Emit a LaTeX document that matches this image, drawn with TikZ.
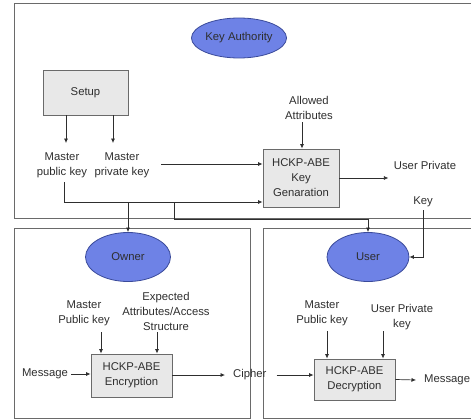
\documentclass[tikz,border=0pt]{standalone}
\usepackage{fontspec}
\setmainfont{Liberation Sans}
\usetikzlibrary{arrows.meta,shapes.geometric}
\definecolor{ink}{HTML}{2E2E2E}
\definecolor{boxfill}{HTML}{E8E8E8}
\definecolor{ellfill}{HTML}{6E82E6}
\definecolor{elldraw}{HTML}{3A4A9A}
\definecolor{framec}{HTML}{6A6A6A}
\newcommand\dfont{\fontsize{11.3}{15}\selectfont}
\begin{document}
\begin{tikzpicture}[x=1pt,y=-1pt,
  panel/.style={draw=framec, line width=1pt},
  proc/.style={draw=framec, fill=boxfill, line width=0.9pt, align=center, font=\dfont, text=ink, inner sep=0pt},
  actor/.style={ellipse, draw=elldraw, fill=ellfill, line width=0.8pt, font=\dfont, text=ink, inner sep=0pt},
  lbl/.style={align=center, font=\dfont, text=ink, inner sep=0pt},
  arr/.style={draw=ink, line width=0.7pt, -{Latex[length=4.5pt,width=4pt]}},
  ln/.style={draw=ink, line width=0.7pt}]
\useasboundingbox (0,0) rectangle (471,420);
\clip (0,0) rectangle (471,420);
% panels
\draw[panel] (14,4) rectangle (480,218);
\draw[panel] (14,228) rectangle (250,418);
\draw[panel] (263,228) rectangle (480,418);
% key authority
\node[actor, minimum width=82, minimum height=40] (ka) at (239,38) {Key Authority};
\node[proc, minimum width=85, minimum height=45] (setup) at (85.5,92.5) {Setup};
\node[lbl] (mpub) at (62,165) {Master\\public key};
\node[lbl] (mpriv) at (122,165) {Master\\private key};
\node[proc, minimum width=76, minimum height=58] (keygen) at (301,178) {HCKP-ABE\\Key\\Genaration};
\node[lbl] (allowed) at (309,108) {Allowed\\Attributes};
\node[lbl] (upriv) at (425,165) {User Private};
\node[lbl] (keytxt) at (423,202) {Key};
% owner / user
\node[actor, minimum width=85, minimum height=49] (owner) at (128,257) {Owner};
\node[actor, minimum width=82, minimum height=49] (user) at (368,257) {User};
\node[lbl] (mpub2) at (84,313) {Master\\Public key};
\node[lbl] (expected) at (166,311) {Expected\\Attributes/Access\\Structure};
\node[proc, minimum width=81, minimum height=43] (enc) at (131.5,375.5) {HCKP-ABE\\Encryption};
\node[lbl] (msg1) at (45,374) {Message};
\node[lbl, anchor=west] (cipher) at (233,375) {Cipher};
\node[lbl] (mpub3) at (322,313) {Master\\Public key};
\node[lbl] (upk) at (402,317.5) {User Private\\key};
\node[proc, minimum width=81, minimum height=41] (dec) at (354.5,379.5) {HCKP-ABE\\Decryption};
\node[lbl, anchor=west] (msg2) at (424,380) {Message};
% coordinates
\coordinate (s1) at (66,115);
\coordinate (s2) at (113,115);
\coordinate (mprivout) at (161,164);
\coordinate (mpubout) at (64,182);
\coordinate (j) at (64,202);
\coordinate (b1) at (128,202);
\coordinate (b2) at (174,202);
\coordinate (b2d) at (174,219);
% top connectors
\draw[arr] (s1) -- ++(0,28);
\draw[arr] (s2) -- ++(0,28);
\draw[arr] (mprivout) -- (mprivout -| keygen.west);
\draw[arr] (mpubout) -- (j) -- (j -| keygen.west);
\draw[arr] (b1) -- (owner.north);
\draw[arr] (b2) -- (b2d) -| (user.north);
\draw[arr] (302,122) -- (302,0 |- keygen.north);
\draw[arr] (keygen.east) -- ++(49,0);
\draw[arr] (423,210) |- (user.east);
% owner connectors
\draw[arr] (101,332) -- (101,0 |- enc.north);
\draw[arr] (157,332) -- (157,0 |- enc.north);
\draw[arr] ([xshift=3pt]msg1.east) -- (msg1.east -| enc.west);
\draw[arr] (enc.east |- cipher.west) -- ([xshift=-8pt]cipher.west);
\draw[arr] ([xshift=10pt]cipher.east) -- (cipher.east -| dec.west);
% user connectors
\draw[arr] (327,331) -- (327,0 |- dec.north);
\draw[arr] (383,331) -- (383,0 |- dec.north);
\draw[arr] (dec.east) -- ([xshift=-8pt]msg2.west);
\end{tikzpicture}
\end{document}
